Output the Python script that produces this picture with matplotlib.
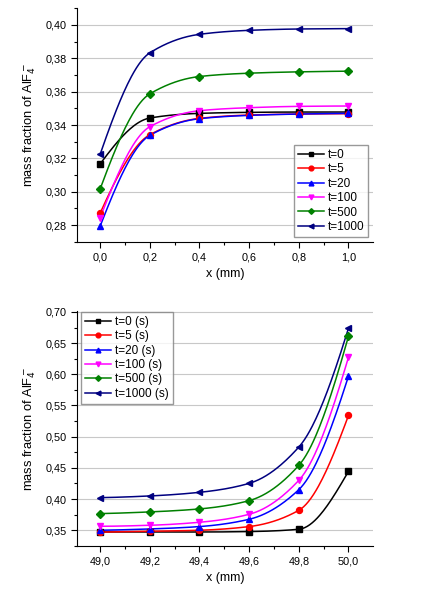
import numpy as np
import matplotlib
matplotlib.use("Agg")
import matplotlib.pyplot as plt
from matplotlib.ticker import MultipleLocator, FuncFormatter

plt.rcParams['font.family'] = ['Liberation Sans', 'DejaVu Sans']

# top panel data
x_top = [0.0, 0.2, 0.4, 0.6, 0.8, 1.0]
t0_top = [0.3167, 0.3442, 0.3470, 0.3476, 0.3478, 0.3478]
t5_top = [0.2872, 0.3342, 0.3440, 0.3460, 0.3466, 0.3468]
t20_top = [0.2794, 0.3338, 0.3438, 0.3458, 0.3466, 0.3470]
t100_top = [0.2844, 0.3390, 0.3486, 0.3504, 0.3512, 0.3514]
t500_top = [0.3017, 0.3587, 0.3691, 0.3711, 0.3719, 0.3723]
t1000_top = [0.3225, 0.3833, 0.3944, 0.3968, 0.3976, 0.3978]

# bottom panel data
x_bot = [49.0, 49.2, 49.4, 49.6, 49.8, 50.0]
t0_bot = [0.3473, 0.3472, 0.3472, 0.3479, 0.3516, 0.4444]
t5_bot = [0.3470, 0.3484, 0.3500, 0.3559, 0.3820, 0.5340]
t20_bot = [0.3500, 0.3521, 0.3559, 0.3676, 0.4151, 0.5970]
t100_bot = [0.3564, 0.3580, 0.3628, 0.3756, 0.4300, 0.6274]
t500_bot = [0.3767, 0.3794, 0.3842, 0.3975, 0.4540, 0.6610]
t1000_bot = [0.4023, 0.4050, 0.4108, 0.4252, 0.4834, 0.6739]

labels_top = ["t=0", "t=5", "t=20", "t=100", "t=500", "t=1000"]
labels_bot = ["t=0 (s)", "t=5 (s)", "t=20 (s)", "t=100 (s)", "t=500 (s)", "t=1000 (s)"]
colors = ["#000000", "#ff0000", "#0000ff", "#ff00ff", "#008000", "#000080"]
markers = ["s", "o", "^", "v", "D", "<"]
msizes = [4, 4.3, 4.3, 4.3, 3.6, 4.3]


def pchip(x, y, xs):
    # monotone cubic (Fritsch-Carlson) for the smooth connecting lines
    x = np.asarray(x, float)
    y = np.asarray(y, float)
    h = np.diff(x)
    d = np.diff(y) / h
    n = len(x)
    m = np.zeros(n)
    for k in range(1, n - 1):
        if d[k - 1] * d[k] > 0:
            w1 = 2 * h[k] + h[k - 1]
            w2 = h[k] + 2 * h[k - 1]
            m[k] = (w1 + w2) / (w1 / d[k - 1] + w2 / d[k])
    m[0] = ((2 * h[0] + h[1]) * d[0] - h[0] * d[1]) / (h[0] + h[1])
    if np.sign(m[0]) != np.sign(d[0]):
        m[0] = 0
    elif np.sign(d[0]) != np.sign(d[1]) and abs(m[0]) > abs(3 * d[0]):
        m[0] = 3 * d[0]
    m[-1] = ((2 * h[-1] + h[-2]) * d[-1] - h[-1] * d[-2]) / (h[-1] + h[-2])
    if np.sign(m[-1]) != np.sign(d[-1]):
        m[-1] = 0
    elif np.sign(d[-1]) != np.sign(d[-2]) and abs(m[-1]) > abs(3 * d[-1]):
        m[-1] = 3 * d[-1]
    idx = np.clip(np.searchsorted(x, xs) - 1, 0, n - 2)
    t = (xs - x[idx]) / h[idx]
    h00 = 2 * t**3 - 3 * t**2 + 1
    h10 = t**3 - 2 * t**2 + t
    h01 = -2 * t**3 + 3 * t**2
    h11 = t**3 - t**2
    return h00 * y[idx] + h10 * h[idx] * m[idx] + h01 * y[idx + 1] + h11 * h[idx] * m[idx + 1]


comma = FuncFormatter(lambda v, p: ("%.2f" % v).replace(".", ","))
comma1 = FuncFormatter(lambda v, p: ("%.1f" % v).replace(".", ","))

fig = plt.figure(figsize=(4.33, 5.94), dpi=100)
ax1 = fig.add_axes([0.178, 0.593, 0.683, 0.393])
ax2 = fig.add_axes([0.178, 0.080, 0.683, 0.397])


def draw(ax, x, series, labels):
    xs = np.linspace(x[0], x[-1], 200)
    for y, lab, c, mk, ms in zip(series, labels, colors, markers, msizes):
        ax.plot(xs, pchip(x, y, xs), color=c, lw=1.1, zorder=3)
        ax.plot(x, y, ls="none", marker=mk, ms=ms, color=c, zorder=4)
        ax.plot([], [], color=c, lw=1.1, marker=mk, ms=ms * 0.8, label=lab)
    for s in ["top", "right"]:
        ax.spines[s].set_visible(False)
    ax.spines["left"].set_linewidth(0.8)
    ax.spines["bottom"].set_linewidth(0.8)
    ax.grid(axis="y", color="#c8c8c8", lw=0.8, zorder=0)
    ax.xaxis.set_major_locator(MultipleLocator(0.2))
    ax.xaxis.set_minor_locator(MultipleLocator(0.1))
    ax.xaxis.set_major_formatter(comma1)
    ax.yaxis.set_major_formatter(comma)
    ax.tick_params(which="major", direction="out", length=4, width=0.8, labelsize=7.8)
    ax.tick_params(which="minor", direction="out", length=2, width=0.8)
    ax.set_xlabel("x (mm)", fontsize=9, labelpad=4)
    ax.set_ylabel("mass fraction of AlF$_4^-$", fontsize=9.3, labelpad=5)


draw(ax1, x_top, [t0_top, t5_top, t20_top, t100_top, t500_top, t1000_top], labels_top)
ax1.set_xlim(-0.093, 1.098)
ax1.set_ylim(0.27, 0.41)
ax1.yaxis.set_major_locator(MultipleLocator(0.02))
ax1.yaxis.set_minor_locator(MultipleLocator(0.01))
ax1.legend(loc="lower right", bbox_to_anchor=(0.993, 0.01), fontsize=8.5, frameon=True,
           fancybox=False, edgecolor="#808080", handlelength=2.2, labelspacing=0.2,
           borderpad=0.35, handletextpad=0.3, borderaxespad=0.2)

draw(ax2, x_bot, [t0_bot, t5_bot, t20_bot, t100_bot, t500_bot, t1000_bot], labels_bot)
ax2.set_xlim(48.907, 50.098)
ax2.set_ylim(0.324, 0.702)
ax2.yaxis.set_major_locator(MultipleLocator(0.05))
ax2.yaxis.set_minor_locator(MultipleLocator(0.025))
ax2.legend(loc="upper left", bbox_to_anchor=(0.01, 1.0), fontsize=8.5, frameon=True,
           fancybox=False, edgecolor="#808080", handlelength=2.2, labelspacing=0.2,
           borderpad=0.35, handletextpad=0.3, borderaxespad=0.1)

fig.savefig("out.png", dpi=100)
